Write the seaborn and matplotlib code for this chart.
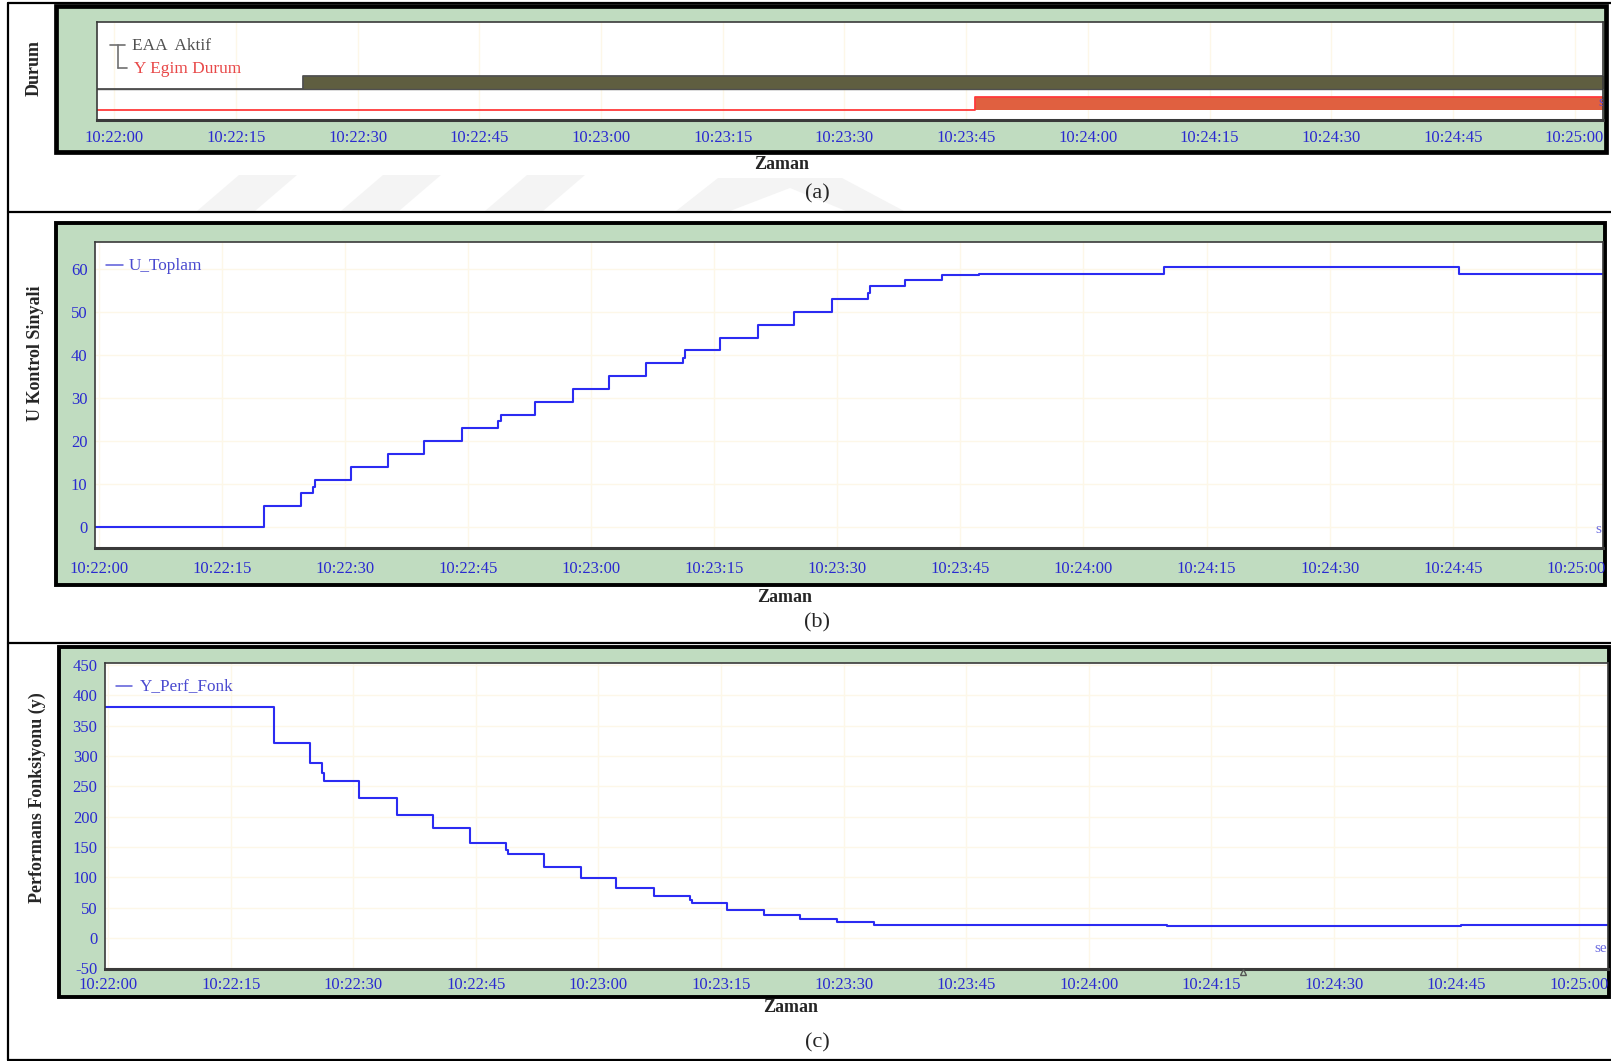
import numpy as np
import pandas as pd
import matplotlib
matplotlib.use("Agg")
import matplotlib.pyplot as plt
from matplotlib.patches import Rectangle, Polygon
from matplotlib.lines import Line2D
from matplotlib.ticker import FuncFormatter, MultipleLocator
import seaborn as sns

# time axis: seconds after 10:22:00
eaa_t = [-3, 23.3, 184]
eaa_on = [0, 1, 1]
egim_t = [-3, 106.1, 184]
egim_on = [0, 1, 1]

u_t = [-3, 20.2, 24.6, 26.1, 26.4, 30.7, 35.3, 39.7, 44.3, 48.7, 49.0, 53.2, 57.8,
       62.2, 66.7, 71.2, 71.5, 75.7, 80.4, 84.7, 89.3, 93.7, 94.0, 98.3, 102.8,
       107.3, 129.8, 165.8, 184]
u_toplam = [0, 5, 8, 9.3, 11, 14, 17, 20, 23, 24.6, 26, 29, 32, 35, 38, 39.3, 41, 44,
            47, 50, 53, 54.3, 56, 57.4, 58.6, 58.8, 60.3, 58.8, 58.8]

y_t = [-3, 20.3, 24.7, 26.2, 26.4, 30.7, 35.3, 39.7, 44.3, 48.7, 48.9, 53.3, 57.8,
       62.2, 66.8, 71.2, 71.4, 75.7, 80.3, 84.7, 89.2, 93.7, 129.6, 165.6, 184]
y_perf = [380, 322, 288, 272, 259, 231, 203, 181, 157, 145, 138, 117, 99, 83, 69,
          62, 58, 46, 37.5, 32, 26, 21.5, 19.5, 21, 21]

W, H = 1611, 1061
GREEN = "#c0dcc0"
BLUE_TXT = "#2a2ad0"
LINE_BLUE = "#2b2bf2"
GRID = "#fdf7e8"

sns.set_theme(style="white")
plt.rcParams["font.family"] = ["Liberation Serif", "DejaVu Serif"]
plt.rcParams["axes.unicode_minus"] = False

fig = plt.figure(figsize=(W / 100, H / 100), dpi=100)
fig.patch.set_facecolor("white")


def fbox(x0, y0, x1, y1):
    return [x0 / W, 1 - y1 / H, (x1 - x0) / W, (y1 - y0) / H]


def fp(x, y):
    return x / W, 1 - y / H


def tfmt(s, pos=None):
    tot = 22 * 60 + int(round(s))
    return "10:%02d:%02d" % (tot // 60, tot % 60)


# page frame and separators
for (x0, y0, x1, y1) in [(8, 3, 1611, 3), (8, 3, 8, 1059.5), (8, 1059.5, 1611, 1059.5),
                         (8, 212, 1611, 212), (8, 642.5, 1611, 642.5)]:
    fig.add_artist(Line2D([x0 / W, x1 / W], [1 - y0 / H, 1 - y1 / H],
                          color="black", lw=1.6, zorder=0.2))

# faint watermark stripes below panel (a)
wm = "#f4f4f4"
for xa in [197, 341, 485]:
    fig.add_artist(Polygon([fp(xa, 211), fp(xa + 58, 211), fp(xa + 100, 175), fp(xa + 42, 175)],
                           closed=True, fc=wm, ec="none", zorder=0.1))
fig.add_artist(Polygon([fp(618, 211), fp(676, 211), fp(718, 178), fp(842, 178), fp(904, 211),
                        fp(846, 211), fp(790, 188), fp(730, 211)],
                       closed=True, fc=wm, ec="none", zorder=0.1))

# green chart frames
for (x0, y0, x1, y1, lw) in [(56.5, 6, 1606, 152, 3.4), (56, 223.5, 1605, 585, 2.8),
                             (59, 647, 1609, 997, 2.8)]:
    b = fbox(x0, y0, x1, y1)
    fig.add_artist(Rectangle((b[0], b[1]), b[2], b[3], transform=fig.transFigure,
                             fc=GREEN, ec="black", lw=lw, zorder=0.5))


def style_axes(ax, xlim, ylim):
    ax.set_zorder(2)
    ax.set_facecolor("white")
    ax.set_xlim(*xlim)
    ax.set_ylim(*ylim)
    ax.xaxis.set_major_locator(MultipleLocator(15))
    ax.xaxis.set_major_formatter(FuncFormatter(tfmt))
    for sp in ax.spines.values():
        sp.set_visible(True)
        sp.set_color("#3a3a3a")
        sp.set_linewidth(1.2)
    ax.spines["bottom"].set_linewidth(2.2)
    ax.tick_params(axis="both", direction="out", length=4, width=1.3, color="#3a3a3a",
                   labelsize=12, labelcolor=BLUE_TXT, pad=1)
    ax.set_xlabel("")
    ax.set_ylabel("")


# ---- (a) Durum ----
axa = fig.add_axes(fbox(97.3, 21.7, 1603, 120))
style_axes(axa, (-2.1, 183.5), (0, 1))
axa.set_yticks([])
axa.xaxis.grid(True, color=GRID, lw=1)
axa.tick_params(axis="x", pad=3)

eaa_base, eaa_h = 0.312, 0.135
egim_base, egim_h = 0.102, 0.135
eaa_y = eaa_base + eaa_h * np.array(eaa_on)
egim_y = egim_base + egim_h * np.array(egim_on)
axa.fill_between(eaa_t, eaa_base, eaa_y, step="post", color="#5f5e40", lw=0)
axa.fill_between(egim_t, egim_base, egim_y, step="post", color="#e06040", lw=0)
sns.lineplot(x=eaa_t, y=eaa_y, ax=axa, drawstyle="steps-post", color="#505050", lw=1.3)
sns.lineplot(x=eaa_t, y=[eaa_base] * len(eaa_t), ax=axa, color="#505050", lw=1.0)
sns.lineplot(x=egim_t, y=egim_y, ax=axa, drawstyle="steps-post", color="#ff3a3a", lw=1.3)
axa.set_xlim(-2.1, 183.5)
axa.set_ylim(0, 1)

# legend glyph and text
for xs, ys in [([110, 125], [45, 45]), ([118.3, 118.3], [45, 68.3]), ([118.3, 126.7], [68.3, 68.3])]:
    fig.add_artist(Line2D([x / W for x in xs], [1 - y / H for y in ys], color="#707070", lw=1.2, zorder=5))
fig.text(*fp(132, 46), "EAA  Aktif", fontsize=12.4, color="#505050", va="center", ha="left", zorder=5)
fig.text(*fp(134, 69), "Y Egim Durum", fontsize=12.4, color="#e84848", va="center", ha="left", zorder=5)
axa.text(*fp(1598, 102), "s", transform=fig.transFigure, fontsize=11, color="#5a4ad0",
         va="center", ha="left", clip_on=True, zorder=6)

# ---- (b) U Kontrol Sinyali ----
axb = fig.add_axes(fbox(94.5, 242.3, 1603, 548.3))
style_axes(axb, (-0.5, 183.3), (-4.9, 66.1))
axb.yaxis.set_major_locator(MultipleLocator(10))
axb.grid(True, color=GRID, lw=1)
sns.lineplot(x=u_t, y=u_toplam, ax=axb, drawstyle="steps-post", color=LINE_BLUE, lw=1.5)
axb.set_xlim(-0.5, 183.3)
axb.set_ylim(-4.9, 66.1)
axb.set_xlabel("")
axb.set_ylabel("")
axb.tick_params(axis="x", pad=5)
fig.add_artist(Line2D([106 / W, 123 / W], [1 - 265 / H] * 2, color="#5a5ad8", lw=1.1, zorder=5))
fig.text(*fp(129, 266), "U_Toplam", fontsize=12.4, color="#4a4ad0", va="center", ha="left", zorder=5)
axb.text(*fp(1595, 530), "s", transform=fig.transFigure, fontsize=11, color="#6a6ae0",
         va="center", ha="left", clip_on=True, zorder=6)

# ---- (c) Performans Fonksiyonu ----
axc = fig.add_axes(fbox(104.5, 663.3, 1607.7, 969))
style_axes(axc, (-0.45, 183.5), (-51.2, 452.8))
axc.yaxis.set_major_locator(MultipleLocator(50))
axc.grid(True, color=GRID, lw=1)
sns.lineplot(x=y_t, y=y_perf, ax=axc, drawstyle="steps-post", color=LINE_BLUE, lw=1.5)
axc.set_xlim(-0.45, 183.5)
axc.set_ylim(-51.2, 452.8)
axc.set_xlabel("")
axc.set_ylabel("")
axc.tick_params(axis="x", pad=1.5)
fig.add_artist(Line2D([116 / W, 132 / W], [1 - 685.7 / H] * 2, color="#5a5ad8", lw=1.1, zorder=5))
fig.text(*fp(140, 686), "Y_Perf_Fonk", fontsize=12.4, color="#4a4ad0", va="center", ha="left", zorder=5)
axc.text(*fp(1594, 948), "se", transform=fig.transFigure, fontsize=11, color="#6a6ae0",
         va="center", ha="left", clip_on=True, zorder=6)
axc.plot(*fp(1243, 972), transform=fig.transFigure, marker="^", ms=4.5, mfc="none",
         mec="#555555", mew=1, clip_on=False, zorder=7)

# axis titles and captions
for (x, y, s) in [(34.5, 68, "Durum"), (35, 353, "U Kontrol Sinyali"), (37, 798, "Performans Fonksiyonu (y)")]:
    fig.text(*fp(x, y), s, rotation=90, fontsize=13, fontweight="bold", ha="center", va="center", zorder=5)
for (x, y) in [(782, 164), (785, 597), (791, 1007)]:
    fig.text(*fp(x, y), "Zaman", fontsize=13, fontweight="bold", ha="center", va="center", zorder=5)
for (y, s) in [(194, "(a)"), (623, "(b)"), (1043, "(c)")]:
    fig.text(*fp(817, y), s, fontsize=16, ha="center", va="center", zorder=5)

fig.savefig("out.png", dpi=100, facecolor="white")
